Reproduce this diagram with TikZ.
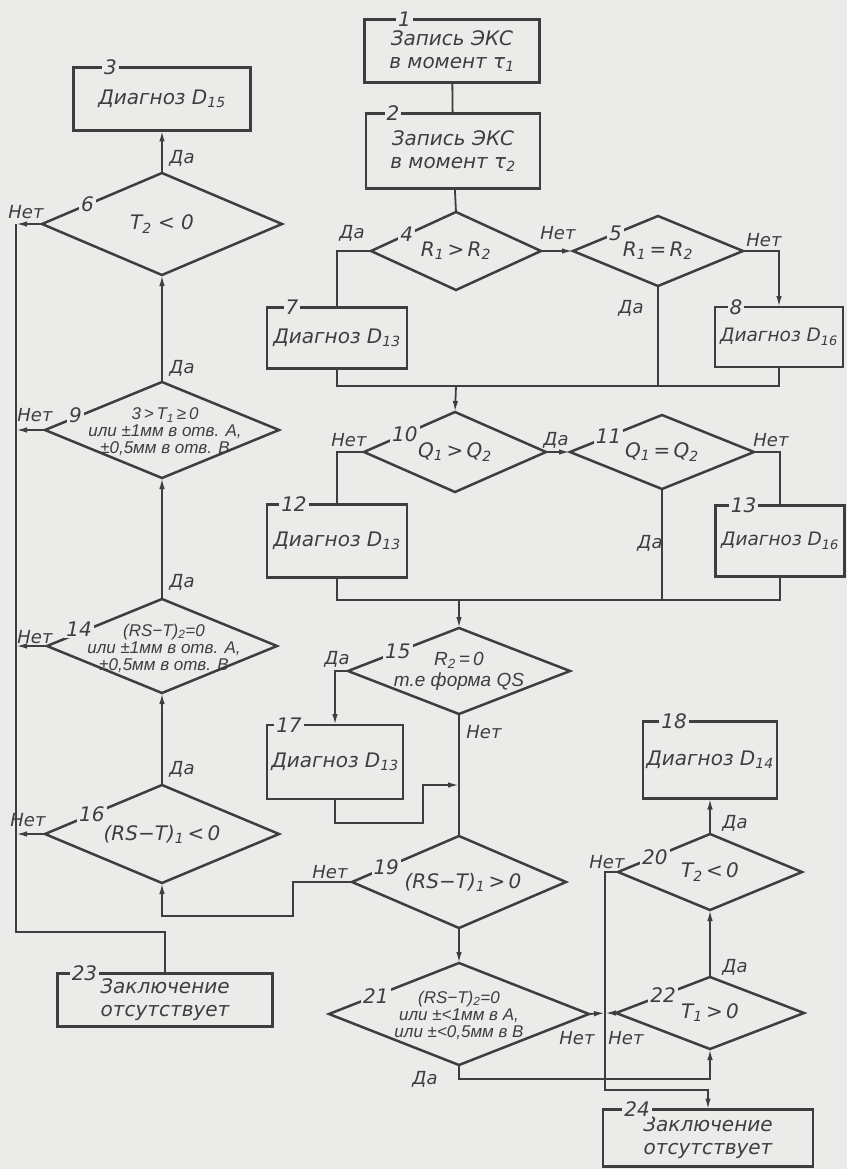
\documentclass[tikz,border=0pt]{standalone}
\usepackage{fontspec}
\setmainfont{DejaVu Sans}
\newfontfamily\narrowfont{Liberation Sans}
\usetikzlibrary{shapes.geometric}
\usetikzlibrary{arrows.meta}
\usetikzlibrary{calc}
\definecolor{paper}{RGB}{235,235,233}
\definecolor{ink}{RGB}{62,62,62}
\newcommand{\lo}[1]{\textsubscript{#1}}
\tikzset{
  blk/.style={draw=ink, line width=2.5pt, rectangle, inner sep=2pt, outer sep=0pt, align=center, text=ink, font=\itshape\fontsize{20}{23}\selectfont},
  dmd/.style={draw=ink, line width=2.5pt, diamond, inner sep=0pt, outer sep=0pt},
  dtxt/.style={text=ink, align=center, inner sep=1pt, font=\itshape\fontsize{20}{22}\selectfont},
  stxt/.style={text=ink, align=center, inner sep=1pt, font=\narrowfont\itshape\fontsize{17}{17}\selectfont},
  num/.style={fill=paper, text=ink, inner sep=2pt, font=\itshape\fontsize{20}{20}\selectfont},
  yn/.style={text=ink, inner sep=1pt, font=\itshape\fontsize{18}{18}\selectfont},
  ln/.style={draw=ink, line width=1.8pt},
  arr/.style={ln, -{Latex[length=11pt,width=5.5pt]}},
}
\begin{document}
\begin{tikzpicture}[x=1pt,y=1pt,yscale=-1]
\path[use as bounding box, fill=paper] (0,0) rectangle (847,1169);

% blocks
\node[blk, minimum width=175pt, minimum height=63pt] (b1) at (452,51) {Запись ЭКС\\в момент τ\lo{1}};
\node[blk, minimum width=174pt, minimum height=75pt] (b2) at (453,151) {Запись ЭКС\\в момент τ\lo{2}};
\node[blk, minimum width=177pt, minimum height=63pt] (b3) at (162,99) {Диагноз D\lo{15}};
\node[blk, minimum width=140pt, minimum height=61pt] (b7) at (337,338) {Диагноз D\lo{13}};
\node[blk, minimum width=128pt, minimum height=60pt, font=\itshape\fontsize{18.5}{22}\selectfont] (b8) at (779,337) {Диагноз D\lo{16}};
\node[blk, minimum width=140pt, minimum height=73pt] (b12) at (337,541) {Диагноз D\lo{13}};
\node[blk, minimum width=129pt, minimum height=71pt, font=\itshape\fontsize{18.5}{22}\selectfont] (b13) at (780,541) {Диагноз D\lo{16}};
\node[blk, minimum width=136pt, minimum height=74pt] (b17) at (335,762) {Диагноз D\lo{13}};
\node[blk, minimum width=134pt, minimum height=77pt] (b18) at (710,760) {Диагноз D\lo{14}};
\node[blk, minimum width=215pt, minimum height=53pt] (b23) at (165,1000) {Заключение\\отсутствует};
\node[blk, minimum width=210pt, minimum height=57pt] (b24) at (708,1138) {Заключение\\отсутствует};

% decisions
\node[dmd, minimum width=240pt, minimum height=102pt] (d6) at (162,224) {};
\node[dmd, minimum width=234pt, minimum height=96pt] (d9) at (162,430) {};
\node[dmd, minimum width=230pt, minimum height=94pt] (d14) at (162,646) {};
\node[dmd, minimum width=234pt, minimum height=98pt] (d16) at (162,834) {};
\node[dmd, minimum width=170pt, minimum height=78pt] (d4) at (456,251) {};
\node[dmd, minimum width=170pt, minimum height=70pt] (d5) at (658,251) {};
\node[dmd, minimum width=182pt, minimum height=80pt] (d10) at (455,452) {};
\node[dmd, minimum width=184pt, minimum height=74pt] (d11) at (662,452) {};
\node[dmd, minimum width=222pt, minimum height=86pt] (d15) at (459,671) {};
\node[dmd, minimum width=214pt, minimum height=92pt] (d19) at (459,882) {};
\node[dmd, minimum width=260pt, minimum height=102pt] (d21) at (459,1014) {};
\node[dmd, minimum width=184pt, minimum height=76pt] (d20) at (710,872) {};
\node[dmd, minimum width=188pt, minimum height=72pt] (d22) at (710,1013) {};

% decision texts
\node[stxt] (t9) at ([xshift=3pt,yshift=2pt]d9.center) {3\,>\,T\lo{1}\,≥\,0\\или ±1мм в отв. А,\\±0,5мм в отв. В};
\node[stxt] (t14) at ([xshift=2pt,yshift=2pt]d14.center) {(RS−T)\lo{2}=0\\или ±1мм в отв. А,\\±0,5мм в отв. В};
\node[stxt] (t21) at ([yshift=1pt]d21.center) {(RS−T)\lo{2}=0\\или ±<1мм в А,\\или ±<0,5мм в В};
\node[stxt, font=\narrowfont\itshape\fontsize{19}{21}\selectfont] (t15) at (d15) {R\lo{2}\,=\,0\\т.е форма QS};
\node[dtxt] (t6) at (d6) {T\lo{2} < 0};
\node[dtxt] (t16) at (d16) {(RS−T)\lo{1}\,<\,0};
\node[dtxt] (t4) at (d4) {R\lo{1}\,>\,R\lo{2}};
\node[dtxt] (t5) at (d5) {R\lo{1}\,=\,R\lo{2}};
\node[dtxt] (t10) at (d10) {Q\lo{1}\,>\,Q\lo{2}};
\node[dtxt] (t11) at (d11) {Q\lo{1}\,=\,Q\lo{2}};
\node[dtxt] (t19) at ([xshift=4pt]d19.center) {(RS−T)\lo{1}\,>\,0};
\node[dtxt] (t20) at (d20) {T\lo{2}\,<\,0};
\node[dtxt] (t22) at (d22) {T\lo{1}\,>\,0};

% block numbers
\node[num] (n1) at ([xshift=40pt]b1.north west) {1};
\node[num] (n2) at ([xshift=27pt]b2.north west) {2};
\node[num] (n3) at ([xshift=37pt]b3.north west) {3};
\node[num] (n7) at ([xshift=25pt]b7.north west) {7};
\node[num] (n8) at ([xshift=21pt]b8.north west) {8};
\node[num] (n12) at ([xshift=27pt]b12.north west) {12};
\node[num] (n13) at ([xshift=28pt]b13.north west) {13};
\node[num] (n17) at ([xshift=22pt]b17.north west) {17};
\node[num] (n18) at ([xshift=31pt]b18.north west) {18};
\node[num] (n23) at ([xshift=27pt]b23.north west) {23};
\node[num] (n24) at ([xshift=34pt]b24.north west) {24};
\node[num] (n6) at ($(d6.west)!0.38!(d6.north)$) {6};
\node[num] (n9) at ([yshift=-2pt]$(d9.west)!0.26!(d9.north)$) {9};
\node[num] (n14) at ([yshift=-4pt]$(d14.west)!0.28!(d14.north)$) {14};
\node[num] (n16) at ($(d16.west)!0.4!(d16.north)$) {16};
\node[num] (n4) at ($(d4.west)!0.42!(d4.north)$) {4};
\node[num] (n5) at ($(d5.west)!0.5!(d5.north)$) {5};
\node[num] (n10) at ($(d10.west)!0.45!(d10.north)$) {10};
\node[num] (n11) at ($(d11.west)!0.42!(d11.north)$) {11};
\node[num] (n15) at ($(d15.west)!0.45!(d15.north)$) {15};
\node[num] (n19) at ($(d19.west)!0.32!(d19.north)$) {19};
\node[num] (n21) at ($(d21.west)!0.36!(d21.north)$) {21};
\node[num] (n20) at ($(d20.west)!0.4!(d20.north)$) {20};
\node[num] (n22) at ($(d22.west)!0.5!(d22.north)$) {22};

% junctions
\coordinate (bus) at (16,0);
\coordinate (m1) at (456,386);
\coordinate (m2) at (459,600);
\coordinate (j17) at (459,785);
\coordinate (jn) at (605,1013);

% upper right
\draw[ln] (b1) -- (b2);
\draw[ln] (b2) -- (d4.north);
\draw[arr] (d4.east) -- (d5.west);
\draw[ln] (d4.west) -| (b7.north);
\draw[arr] (d5.east) -| (b8.north);
\draw[ln] (b7.south) |- (m1) -| (b8.south);
\draw[ln] (d5.south) -- (d5.south |- m1);
\draw[arr] (m1) -- (d10.north);
\draw[arr] (d10.east) -- (d11.west);
\draw[ln] (d10.west) -| (b12.north);
\draw[ln] (d11.east) -| (b13.north);
\draw[ln] (b12.south) |- (m2) -| (b13.south);
\draw[ln] (d11.south) -- (d11.south |- m2);
\draw[arr] (m2) -- (d15.north);
\draw[arr] (d15.west) -| (b17.north);
\draw[ln] (d15.south) -- (d19.north);
\draw[arr] (b17.south) |- (423,823) |- (j17);
\draw[arr] (d19.west) -- (293,882) |- (162,916) -- (d16.south);
\draw[arr] (d19.south) -- (d21.north);

% lower right
\draw[arr] (d21.south) -- ++(0,14) -| (d22.south);
\draw[arr] (d21.east) -- (jn);
\draw[arr] (d22.west) -- (jn);
\draw[arr] (d22.north) -- (d20.south);
\draw[arr] (d20.north) -- (b18.south);
\draw[arr] (d20.west) -- (605,872) |- (708,1090) -- (b24.north);

% left column
\draw[arr] (d16.north) -- (d14.south);
\draw[arr] (d14.north) -- (d9.south);
\draw[arr] (d9.north) -- (d6.south);
\draw[arr] (d6.north) -- (b3.south);
\draw[arr] (d6.west) -- (d6.west -| bus);
\draw[arr] (d9.west) -- (d9.west -| bus);
\draw[arr] (d14.west) -- (d14.west -| bus);
\draw[arr] (d16.west) -- (d16.west -| bus);
\draw[ln] (d6.west -| bus) -- (16,932) -| (b23.north);

% yes / no
\node[yn] (y6) at (182,158) {Да};
\node[yn] (y9) at (182,368) {Да};
\node[yn] (y14) at (182,582) {Да};
\node[yn] (y16) at (182,769) {Да};
\node[yn] (y4) at (352,233) {Да};
\node[yn] (y5) at (631,308) {Да};
\node[yn] (y10) at (556,440) {Да};
\node[yn] (y11) at (650,543) {Да};
\node[yn] (y15) at (337,659) {Да};
\node[yn] (y21) at (425,1079) {Да};
\node[yn] (y20) at (735,823) {Да};
\node[yn] (y22) at (735,967) {Да};
\node[yn] (x6) at (26,212) {Нет};
\node[yn] (x9) at (35,415) {Нет};
\node[yn] (x14) at (35,637) {Нет};
\node[yn] (x16) at (28,820) {Нет};
\node[yn] (x4) at (558,233) {Нет};
\node[yn] (x5) at (764,240) {Нет};
\node[yn] (x10) at (349,440) {Нет};
\node[yn] (x11) at (771,440) {Нет};
\node[yn] (x15) at (484,732) {Нет};
\node[yn] (x19) at (330,872) {Нет};
\node[yn] (x20) at (607,862) {Нет};
\node[yn] (x21) at (577,1038) {Нет};
\node[yn] (x22) at (626,1038) {Нет};

\end{tikzpicture}
\end{document}
